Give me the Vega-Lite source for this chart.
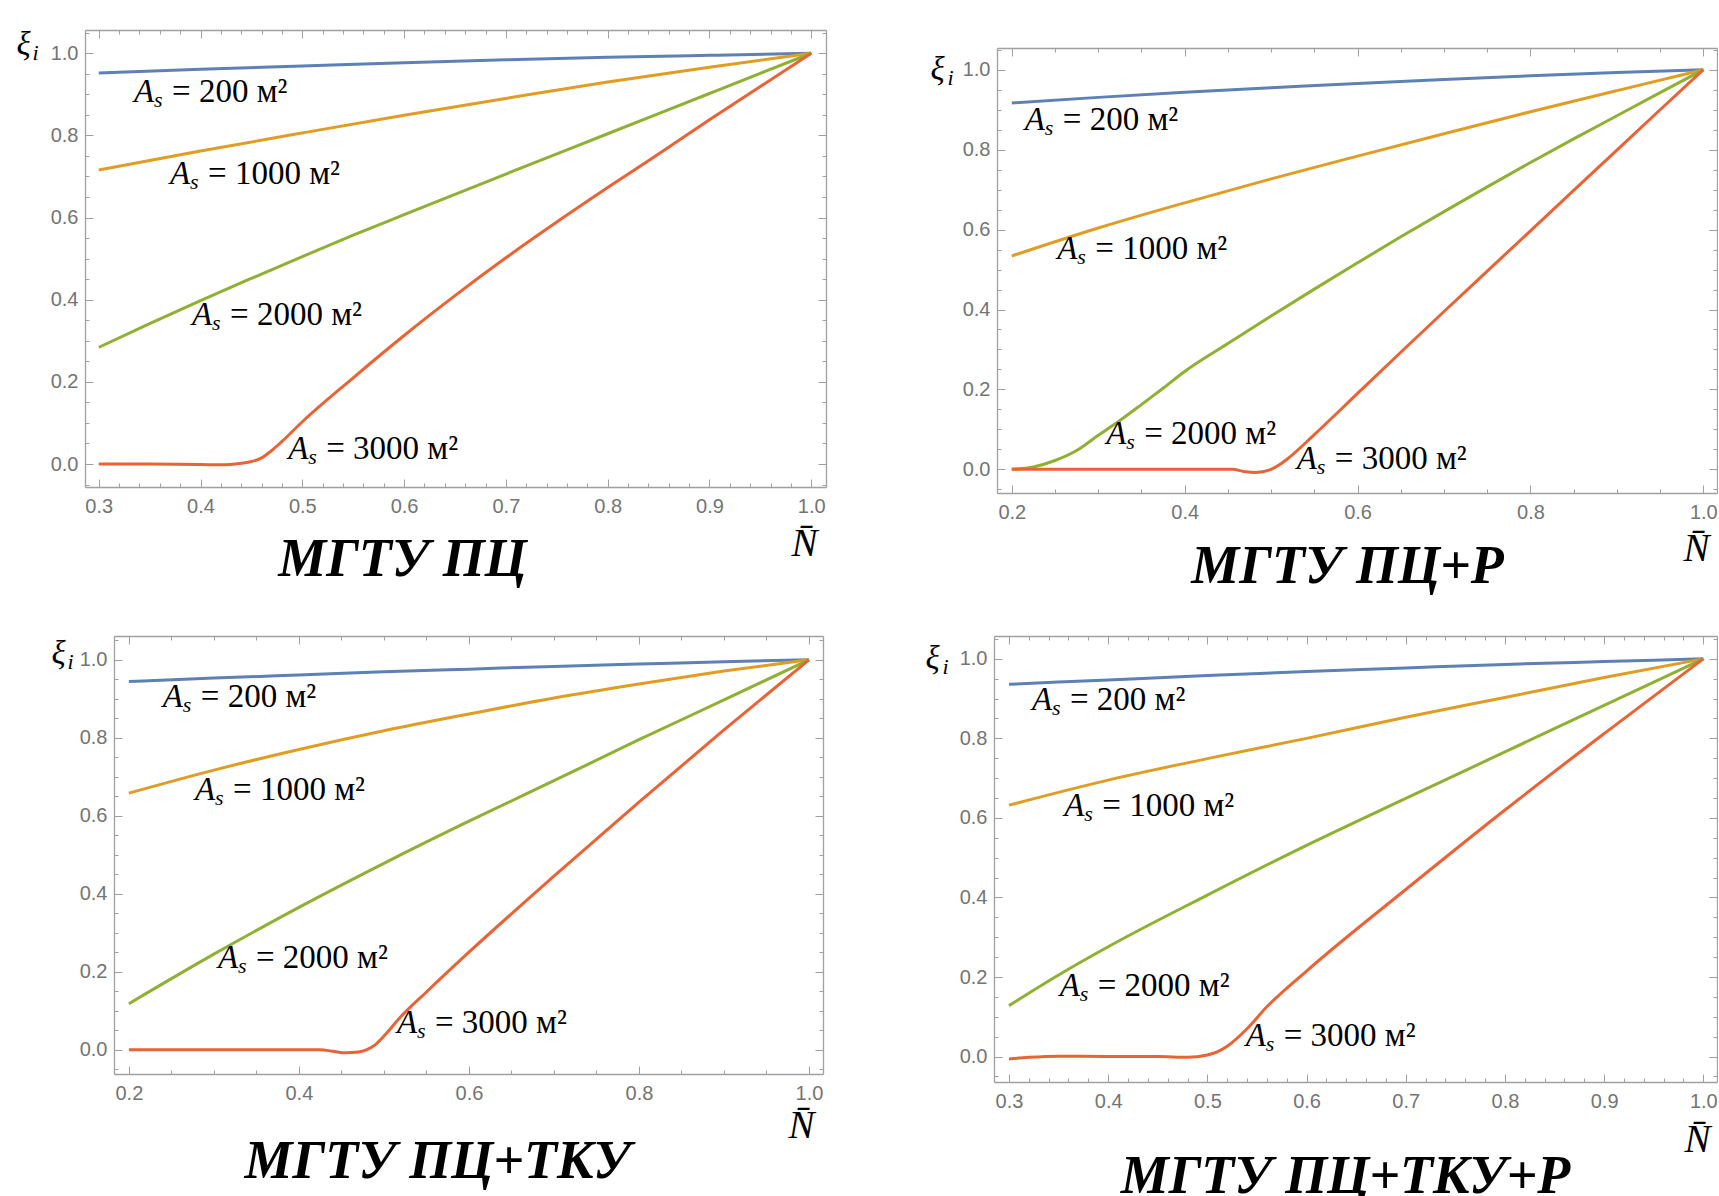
{
  "$schema": "https://vega.github.io/schema/vega-lite/v6.json",
  "background": "white",
  "padding": {"left": 16, "top": 28, "right": 0, "bottom": 0},
  "config": {
    "view": {"stroke": null},
    "axis": {
      "grid": false, "domainColor": "#a0a0a0", "domainWidth": 1.3, "tickColor": "#a0a0a0", "tickWidth": 1,
      "labelFont": "Liberation Sans", "labelFontSize": 20, "labelColor": "#747474", "labelFlush": false, "labelOverlap": false,
      "titleColor": "#000000", "titleFont": "Liberation Serif", "titleFontWeight": "normal", "titleFontStyle": "italic",
      "titleAngle": 0, "titleAlign": "left", "titleBaseline": "alphabetic", "format": ".1f"
    }
  },
  "datasets": {
    "p1": [
      {"series":"200","N":0.3,"xi":0.952},{"series":"200","N":0.4,"xi":0.961},{"series":"200","N":0.5,"xi":0.969},{"series":"200","N":0.6,"xi":0.977},{"series":"200","N":0.7,"xi":0.984},{"series":"200","N":0.8,"xi":0.99},{"series":"200","N":0.9,"xi":0.995},{"series":"200","N":1.0,"xi":1.0},
      {"series":"1000","N":0.3,"xi":0.716},{"series":"1000","N":0.4,"xi":0.762},{"series":"1000","N":0.5,"xi":0.806},{"series":"1000","N":0.6,"xi":0.849},{"series":"1000","N":0.7,"xi":0.89},{"series":"1000","N":0.8,"xi":0.93},{"series":"1000","N":0.9,"xi":0.966},{"series":"1000","N":1.0,"xi":1.0},
      {"series":"2000","N":0.3,"xi":0.284},{"series":"2000","N":0.35,"xi":0.342},{"series":"2000","N":0.4,"xi":0.398},{"series":"2000","N":0.45,"xi":0.452},{"series":"2000","N":0.5,"xi":0.505},{"series":"2000","N":0.55,"xi":0.557},{"series":"2000","N":0.6,"xi":0.607},{"series":"2000","N":0.7,"xi":0.706},{"series":"2000","N":0.8,"xi":0.804},{"series":"2000","N":0.9,"xi":0.902},{"series":"2000","N":1.0,"xi":1.0},
      {"series":"3000","N":0.3,"xi":0.0},{"series":"3000","N":0.35,"xi":0.0},{"series":"3000","N":0.4,"xi":-0.001},{"series":"3000","N":0.42,"xi":-0.002},{"series":"3000","N":0.44,"xi":0.002},{"series":"3000","N":0.45,"xi":0.006},{"series":"3000","N":0.46,"xi":0.015},{"series":"3000","N":0.47,"xi":0.033},{"series":"3000","N":0.48,"xi":0.055},{"series":"3000","N":0.5,"xi":0.103},{"series":"3000","N":0.55,"xi":0.21},{"series":"3000","N":0.6,"xi":0.313},{"series":"3000","N":0.65,"xi":0.41},{"series":"3000","N":0.7,"xi":0.502},{"series":"3000","N":0.75,"xi":0.589},{"series":"3000","N":0.8,"xi":0.673},{"series":"3000","N":0.85,"xi":0.755},{"series":"3000","N":0.9,"xi":0.838},{"series":"3000","N":0.95,"xi":0.919},{"series":"3000","N":1.0,"xi":1.0}
    ],
    "p2": [
      {"series":"200","N":0.2,"xi":0.917},{"series":"200","N":0.3,"xi":0.931},{"series":"200","N":0.4,"xi":0.944},{"series":"200","N":0.5,"xi":0.955},{"series":"200","N":0.6,"xi":0.966},{"series":"200","N":0.7,"xi":0.976},{"series":"200","N":0.8,"xi":0.985},{"series":"200","N":0.9,"xi":0.993},{"series":"200","N":1.0,"xi":1.0},
      {"series":"1000","N":0.2,"xi":0.534},{"series":"1000","N":0.3,"xi":0.604},{"series":"1000","N":0.4,"xi":0.667},{"series":"1000","N":0.5,"xi":0.727},{"series":"1000","N":0.6,"xi":0.784},{"series":"1000","N":0.7,"xi":0.84},{"series":"1000","N":0.8,"xi":0.895},{"series":"1000","N":0.9,"xi":0.948},{"series":"1000","N":1.0,"xi":1.0},
      {"series":"2000","N":0.2,"xi":0.0},{"series":"2000","N":0.225,"xi":0.006},{"series":"2000","N":0.25,"xi":0.022},{"series":"2000","N":0.275,"xi":0.047},{"series":"2000","N":0.3,"xi":0.085},{"series":"2000","N":0.325,"xi":0.122},{"series":"2000","N":0.35,"xi":0.162},{"series":"2000","N":0.375,"xi":0.203},{"series":"2000","N":0.4,"xi":0.245},{"series":"2000","N":0.45,"xi":0.315},{"series":"2000","N":0.5,"xi":0.384},{"series":"2000","N":0.55,"xi":0.451},{"series":"2000","N":0.6,"xi":0.517},{"series":"2000","N":0.65,"xi":0.582},{"series":"2000","N":0.7,"xi":0.645},{"series":"2000","N":0.75,"xi":0.707},{"series":"2000","N":0.8,"xi":0.768},{"series":"2000","N":0.85,"xi":0.827},{"series":"2000","N":0.9,"xi":0.885},{"series":"2000","N":0.95,"xi":0.943},{"series":"2000","N":1.0,"xi":1.0},
      {"series":"3000","N":0.2,"xi":0.0},{"series":"3000","N":0.3,"xi":0.0},{"series":"3000","N":0.4,"xi":0.0},{"series":"3000","N":0.455,"xi":0.0},{"series":"3000","N":0.47,"xi":-0.006},{"series":"3000","N":0.48,"xi":-0.008},{"series":"3000","N":0.49,"xi":-0.006},{"series":"3000","N":0.5,"xi":0.0},{"series":"3000","N":0.51,"xi":0.012},{"series":"3000","N":0.52,"xi":0.028},{"series":"3000","N":0.55,"xi":0.087},{"series":"3000","N":0.6,"xi":0.19},{"series":"3000","N":0.65,"xi":0.293},{"series":"3000","N":0.7,"xi":0.395},{"series":"3000","N":0.75,"xi":0.496},{"series":"3000","N":0.8,"xi":0.597},{"series":"3000","N":0.85,"xi":0.698},{"series":"3000","N":0.9,"xi":0.799},{"series":"3000","N":0.95,"xi":0.9},{"series":"3000","N":1.0,"xi":1.0}
    ],
    "p3": [
      {"series":"200","N":0.2,"xi":0.944},{"series":"200","N":0.3,"xi":0.953},{"series":"200","N":0.4,"xi":0.961},{"series":"200","N":0.5,"xi":0.969},{"series":"200","N":0.6,"xi":0.976},{"series":"200","N":0.7,"xi":0.983},{"series":"200","N":0.8,"xi":0.989},{"series":"200","N":0.9,"xi":0.995},{"series":"200","N":1.0,"xi":1.0},
      {"series":"1000","N":0.2,"xi":0.658},{"series":"1000","N":0.3,"xi":0.717},{"series":"1000","N":0.4,"xi":0.77},{"series":"1000","N":0.5,"xi":0.818},{"series":"1000","N":0.6,"xi":0.861},{"series":"1000","N":0.7,"xi":0.902},{"series":"1000","N":0.8,"xi":0.938},{"series":"1000","N":0.9,"xi":0.971},{"series":"1000","N":1.0,"xi":1.0},
      {"series":"2000","N":0.2,"xi":0.118},{"series":"2000","N":0.3,"xi":0.245},{"series":"2000","N":0.4,"xi":0.365},{"series":"2000","N":0.5,"xi":0.478},{"series":"2000","N":0.6,"xi":0.586},{"series":"2000","N":0.7,"xi":0.69},{"series":"2000","N":0.8,"xi":0.795},{"series":"2000","N":0.9,"xi":0.897},{"series":"2000","N":1.0,"xi":1.0},
      {"series":"3000","N":0.2,"xi":0.0},{"series":"3000","N":0.3,"xi":0.0},{"series":"3000","N":0.4,"xi":0.0},{"series":"3000","N":0.425,"xi":0.0},{"series":"3000","N":0.44,"xi":-0.004},{"series":"3000","N":0.455,"xi":-0.008},{"series":"3000","N":0.47,"xi":-0.006},{"series":"3000","N":0.48,"xi":0.0},{"series":"3000","N":0.49,"xi":0.013},{"series":"3000","N":0.5,"xi":0.035},{"series":"3000","N":0.52,"xi":0.085},{"series":"3000","N":0.55,"xi":0.148},{"series":"3000","N":0.6,"xi":0.25},{"series":"3000","N":0.7,"xi":0.445},{"series":"3000","N":0.8,"xi":0.635},{"series":"3000","N":0.9,"xi":0.82},{"series":"3000","N":1.0,"xi":1.0}
    ],
    "p4": [
      {"series":"200","N":0.3,"xi":0.936},{"series":"200","N":0.4,"xi":0.947},{"series":"200","N":0.5,"xi":0.958},{"series":"200","N":0.6,"xi":0.968},{"series":"200","N":0.7,"xi":0.977},{"series":"200","N":0.8,"xi":0.986},{"series":"200","N":0.9,"xi":0.993},{"series":"200","N":1.0,"xi":1.0},
      {"series":"1000","N":0.3,"xi":0.632},{"series":"1000","N":0.4,"xi":0.695},{"series":"1000","N":0.5,"xi":0.749},{"series":"1000","N":0.6,"xi":0.8},{"series":"1000","N":0.7,"xi":0.853},{"series":"1000","N":0.8,"xi":0.903},{"series":"1000","N":0.9,"xi":0.953},{"series":"1000","N":1.0,"xi":1.0},
      {"series":"2000","N":0.3,"xi":0.128},{"series":"2000","N":0.35,"xi":0.205},{"series":"2000","N":0.4,"xi":0.276},{"series":"2000","N":0.5,"xi":0.406},{"series":"2000","N":0.6,"xi":0.531},{"series":"2000","N":0.7,"xi":0.649},{"series":"2000","N":0.8,"xi":0.766},{"series":"2000","N":0.9,"xi":0.883},{"series":"2000","N":1.0,"xi":1.0},
      {"series":"3000","N":0.3,"xi":-0.006},{"series":"3000","N":0.32,"xi":-0.002},{"series":"3000","N":0.35,"xi":0.001},{"series":"3000","N":0.4,"xi":0.0},{"series":"3000","N":0.45,"xi":0.0},{"series":"3000","N":0.48,"xi":-0.002},{"series":"3000","N":0.5,"xi":0.004},{"series":"3000","N":0.51,"xi":0.012},{"series":"3000","N":0.52,"xi":0.026},{"series":"3000","N":0.54,"xi":0.07},{"series":"3000","N":0.56,"xi":0.125},{"series":"3000","N":0.6,"xi":0.215},{"series":"3000","N":0.7,"xi":0.42},{"series":"3000","N":0.8,"xi":0.62},{"series":"3000","N":0.9,"xi":0.812},{"series":"3000","N":1.0,"xi":1.0}
    ],
    "p1lab": [
      {"series":"200","N":0.3347,"xi":0.8807,"sym":"A","sub":"s","eq":"= 200 м²"},
      {"series":"1000","N":0.3701,"xi":0.6813,"sym":"A","sub":"s","eq":"= 1000 м²"},
      {"series":"2000","N":0.3917,"xi":0.3386,"sym":"A","sub":"s","eq":"= 2000 м²"},
      {"series":"3000","N":0.4861,"xi":0.0129,"sym":"A","sub":"s","eq":"= 3000 м²"}
    ],
    "p2lab": [
      {"series":"200","N":0.2151,"xi":0.849,"sym":"A","sub":"s","eq":"= 200 м²"},
      {"series":"1000","N":0.2527,"xi":0.5263,"sym":"A","sub":"s","eq":"= 1000 м²"},
      {"series":"2000","N":0.3092,"xi":0.0633,"sym":"A","sub":"s","eq":"= 2000 м²"},
      {"series":"3000","N":0.5297,"xi":0.0008,"sym":"A","sub":"s","eq":"= 3000 м²"}
    ],
    "p3lab": [
      {"series":"200","N":0.2399,"xi":0.88,"sym":"A","sub":"s","eq":"= 200 м²"},
      {"series":"1000","N":0.2778,"xi":0.6404,"sym":"A","sub":"s","eq":"= 1000 м²"},
      {"series":"2000","N":0.3047,"xi":0.2095,"sym":"A","sub":"s","eq":"= 2000 м²"},
      {"series":"3000","N":0.5154,"xi":0.0428,"sym":"A","sub":"s","eq":"= 3000 м²"}
    ],
    "p4lab": [
      {"series":"200","N":0.3231,"xi":0.8716,"sym":"A","sub":"s","eq":"= 200 м²"},
      {"series":"1000","N":0.3558,"xi":0.6047,"sym":"A","sub":"s","eq":"= 1000 м²"},
      {"series":"2000","N":0.3512,"xi":0.1516,"sym":"A","sub":"s","eq":"= 2000 м²"},
      {"series":"3000","N":0.5386,"xi":0.0257,"sym":"A","sub":"s","eq":"= 3000 м²"}
    ]
  },
  "columns": 2,
  "spacing": {"row": 143, "column": 168},
  "bounds": "flush",
  "concat": [
    {
      "width": 741, "height": 457,
      "resolve": {"axis": {"x": "independent", "y": "independent"}},
      "layer": [
        {"data": {"name": "p1"}, "mark": {"type": "line", "strokeWidth": 3, "interpolate": "monotone"},
         "encoding": {
           "x": {"field": "N", "type": "quantitative", "scale": {"domain": [0.2865, 1.0145], "nice": false, "zero": false},
                 "axis": {"orient": "bottom", "values": [0.3,0.4,0.5,0.6,0.7,0.8,0.9,1.0], "tickSize": -8, "labelPadding": 17, "title": "N\u0304", "titleFontSize": 39, "titleX": 706, "titleY": 68}},
           "y": {"field": "xi", "type": "quantitative", "scale": {"domain": [-0.0559, 1.0566], "nice": false, "zero": false},
                 "axis": {"orient": "left", "values": [0,0.2,0.4,0.6,0.8,1.0], "tickSize": -8, "labelPadding": 15, "title": "ξ", "titleFontSize": 33, "titleX": -69, "titleY": 24}},
           "color": {"field": "series", "type": "nominal", "legend": null, "scale": {"domain": ["200","1000","2000","3000"], "range": ["#5E81B5","#E19C24","#8FB032","#EB6235"]}}
         }},
        {"data": {"name": "p1"}, "mark": {"type": "point", "opacity": 0},
         "encoding": {
           "x": {"field": "N", "type": "quantitative", "axis": {"orient": "bottom", "values": [0.32,0.34,0.36,0.38,0.42,0.44,0.46,0.48,0.52,0.54,0.56,0.58,0.62,0.64,0.66,0.68,0.72,0.74,0.76,0.78,0.82,0.84,0.86,0.88,0.92,0.94,0.96,0.98], "labels": false, "domain": false, "tickSize": -4, "title": "МГТУ ПЦ", "titleFontSize": 54, "titleFontWeight": "bold", "titleAlign": "center", "titleX": 317, "titleY": 88}},
           "y": {"field": "xi", "type": "quantitative", "axis": {"orient": "left", "values": [-0.05,0.05,0.1,0.15,0.25,0.3,0.35,0.45,0.5,0.55,0.65,0.7,0.75,0.85,0.9,0.95,1.05], "labels": false, "domain": false, "tickSize": -4, "title": "i", "titleFontSize": 22, "titleX": -53, "titleY": 29}}
         }},
        {"data": {"name": "p1"}, "mark": {"type": "point", "opacity": 0},
         "encoding": {
           "x": {"field": "N", "type": "quantitative", "axis": {"orient": "top", "values": [0.3,0.4,0.5,0.6,0.7,0.8,0.9,1.0], "labels": false, "tickSize": -8, "title": null}},
           "y": {"field": "xi", "type": "quantitative", "axis": {"orient": "right", "values": [0,0.2,0.4,0.6,0.8,1.0], "labels": false, "tickSize": -8, "title": null}}
         }},
        {"data": {"name": "p1"}, "mark": {"type": "point", "opacity": 0},
         "encoding": {
           "x": {"field": "N", "type": "quantitative", "axis": {"orient": "top", "values": [0.32,0.34,0.36,0.38,0.42,0.44,0.46,0.48,0.52,0.54,0.56,0.58,0.62,0.64,0.66,0.68,0.72,0.74,0.76,0.78,0.82,0.84,0.86,0.88,0.92,0.94,0.96,0.98], "labels": false, "domain": false, "tickSize": -4, "title": null}},
           "y": {"field": "xi", "type": "quantitative", "axis": {"orient": "right", "values": [-0.05,0.05,0.1,0.15,0.25,0.3,0.35,0.45,0.5,0.55,0.65,0.7,0.75,0.85,0.9,0.95,1.05], "labels": false, "domain": false, "tickSize": -4, "title": null}}
         }},
        {"data": {"name": "p1lab"}, "mark": {"type": "text", "align": "left", "baseline": "alphabetic", "font": "Liberation Serif", "fontSize": 33, "fontStyle": "italic", "color": "#000000"},
         "encoding": {"x": {"field": "N", "type": "quantitative", "axis": null}, "y": {"field": "xi", "type": "quantitative", "axis": null}, "text": {"field": "sym"}}},
        {"data": {"name": "p1lab"}, "mark": {"type": "text", "align": "left", "baseline": "alphabetic", "font": "Liberation Serif", "fontSize": 22, "fontStyle": "italic", "dx": 20, "dy": 5, "color": "#000000"},
         "encoding": {"x": {"field": "N", "type": "quantitative", "axis": null}, "y": {"field": "xi", "type": "quantitative", "axis": null}, "text": {"field": "sub"}}},
        {"data": {"name": "p1lab"}, "mark": {"type": "text", "align": "left", "baseline": "alphabetic", "font": "Liberation Serif", "fontSize": 33, "dx": 38, "color": "#000000"},
         "encoding": {"x": {"field": "N", "type": "quantitative", "axis": null}, "y": {"field": "xi", "type": "quantitative", "axis": null}, "text": {"field": "eq"}}}
      ]
    },
    {
      "width": 723, "height": 463,
      "resolve": {"axis": {"x": "independent", "y": "independent"}},
      "layer": [
        {"data": {"name": "p2"}, "mark": {"type": "line", "strokeWidth": 3, "interpolate": "monotone"},
         "encoding": {
           "x": {"field": "N", "type": "quantitative", "scale": {"domain": [0.1829, 1.0158], "range": [3, 723], "nice": false, "zero": false},
                 "axis": {"orient": "bottom", "values": [0.2,0.4,0.6,0.8,1.0], "tickSize": -8, "labelPadding": 17, "title": "N\u0304", "titleFontSize": 39, "titleX": 689, "titleY": 67}},
           "y": {"field": "xi", "type": "quantitative", "scale": {"domain": [-0.0593, 1.0546], "range": [463, 18], "nice": false, "zero": false},
                 "axis": {"orient": "left", "offset": -3, "values": [0,0.2,0.4,0.6,0.8,1.0], "tickSize": -8, "labelPadding": 15, "title": "ξ", "titleFontSize": 33, "titleX": -67, "titleY": 49}},
           "color": {"field": "series", "type": "nominal", "legend": null, "scale": {"domain": ["200","1000","2000","3000"], "range": ["#5E81B5","#E19C24","#8FB032","#EB6235"]}}
         }},
        {"data": {"name": "p2"}, "mark": {"type": "point", "opacity": 0},
         "encoding": {
           "x": {"field": "N", "type": "quantitative", "axis": {"orient": "bottom", "values": [0.25,0.3,0.35,0.45,0.5,0.55,0.65,0.7,0.75,0.85,0.9,0.95], "labels": false, "domain": false, "tickSize": -4, "title": "МГТУ ПЦ+Р", "titleFontSize": 54, "titleFontWeight": "bold", "titleAlign": "center", "titleX": 353, "titleY": 89}},
           "y": {"field": "xi", "type": "quantitative", "axis": {"orient": "left", "offset": -3, "values": [-0.05,0.05,0.1,0.15,0.25,0.3,0.35,0.45,0.5,0.55,0.65,0.7,0.75,0.85,0.9,0.95,1.05], "labels": false, "domain": false, "tickSize": -4, "title": "i", "titleFontSize": 22, "titleX": -50, "titleY": 54}}
         }},
        {"data": {"name": "p2"}, "mark": {"type": "point", "opacity": 0},
         "encoding": {
           "x": {"field": "N", "type": "quantitative", "axis": {"orient": "top", "offset": -18, "values": [0.2,0.4,0.6,0.8,1.0], "labels": false, "tickSize": -8, "title": null}},
           "y": {"field": "xi", "type": "quantitative", "axis": {"orient": "right", "values": [0,0.2,0.4,0.6,0.8,1.0], "labels": false, "tickSize": -8, "title": null}}
         }},
        {"data": {"name": "p2"}, "mark": {"type": "point", "opacity": 0},
         "encoding": {
           "x": {"field": "N", "type": "quantitative", "axis": {"orient": "top", "offset": -18, "values": [0.25,0.3,0.35,0.45,0.5,0.55,0.65,0.7,0.75,0.85,0.9,0.95], "labels": false, "domain": false, "tickSize": -4, "title": null}},
           "y": {"field": "xi", "type": "quantitative", "axis": {"orient": "right", "values": [-0.05,0.05,0.1,0.15,0.25,0.3,0.35,0.45,0.5,0.55,0.65,0.7,0.75,0.85,0.9,0.95,1.05], "labels": false, "domain": false, "tickSize": -4, "title": null}}
         }},
        {"data": {"name": "p2lab"}, "mark": {"type": "text", "align": "left", "baseline": "alphabetic", "font": "Liberation Serif", "fontSize": 33, "fontStyle": "italic", "color": "#000000"},
         "encoding": {"x": {"field": "N", "type": "quantitative", "axis": null}, "y": {"field": "xi", "type": "quantitative", "axis": null}, "text": {"field": "sym"}}},
        {"data": {"name": "p2lab"}, "mark": {"type": "text", "align": "left", "baseline": "alphabetic", "font": "Liberation Serif", "fontSize": 22, "fontStyle": "italic", "dx": 20, "dy": 5, "color": "#000000"},
         "encoding": {"x": {"field": "N", "type": "quantitative", "axis": null}, "y": {"field": "xi", "type": "quantitative", "axis": null}, "text": {"field": "sub"}}},
        {"data": {"name": "p2lab"}, "mark": {"type": "text", "align": "left", "baseline": "alphabetic", "font": "Liberation Serif", "fontSize": 33, "dx": 38, "color": "#000000"},
         "encoding": {"x": {"field": "N", "type": "quantitative", "axis": null}, "y": {"field": "xi", "type": "quantitative", "axis": null}, "text": {"field": "eq"}}}
      ]
    },
    {
      "width": 738, "height": 438,
      "resolve": {"axis": {"x": "independent", "y": "independent"}},
      "layer": [
        {"data": {"name": "p3"}, "mark": {"type": "line", "strokeWidth": 3, "interpolate": "monotone"},
         "encoding": {
           "x": {"field": "N", "type": "quantitative", "scale": {"domain": [0.1825, 1.0165], "range": [29, 738], "nice": false, "zero": false},
                 "axis": {"orient": "bottom", "values": [0.2,0.4,0.6,0.8,1.0], "tickSize": -8, "labelPadding": 17, "title": "N\u0304", "titleFontSize": 39, "titleX": 703, "titleY": 63}},
           "y": {"field": "xi", "type": "quantitative", "scale": {"domain": [-0.0623, 1.061], "nice": false, "zero": false},
                 "axis": {"orient": "left", "offset": -29, "values": [0,0.2,0.4,0.6,0.8,1.0], "tickSize": -8, "labelPadding": 15, "title": "ξ", "titleFontSize": 33, "titleX": -63, "titleY": 27}},
           "color": {"field": "series", "type": "nominal", "legend": null, "scale": {"domain": ["200","1000","2000","3000"], "range": ["#5E81B5","#E19C24","#8FB032","#EB6235"]}}
         }},
        {"data": {"name": "p3"}, "mark": {"type": "point", "opacity": 0},
         "encoding": {
           "x": {"field": "N", "type": "quantitative", "axis": {"orient": "bottom", "values": [0.25,0.3,0.35,0.45,0.5,0.55,0.65,0.7,0.75,0.85,0.9,0.95], "labels": false, "domain": false, "tickSize": -4, "title": "МГТУ ПЦ+ТКУ", "titleFontSize": 54, "titleFontWeight": "bold", "titleAlign": "center", "titleX": 352, "titleY": 103}},
           "y": {"field": "xi", "type": "quantitative", "axis": {"orient": "left", "offset": -29, "values": [-0.05,0.05,0.1,0.15,0.25,0.3,0.35,0.45,0.5,0.55,0.65,0.7,0.75,0.85,0.9,0.95,1.05], "labels": false, "domain": false, "tickSize": -4, "title": "i", "titleFontSize": 22, "titleX": -47, "titleY": 32}}
         }},
        {"data": {"name": "p3"}, "mark": {"type": "point", "opacity": 0},
         "encoding": {
           "x": {"field": "N", "type": "quantitative", "axis": {"orient": "top", "values": [0.2,0.4,0.6,0.8,1.0], "labels": false, "tickSize": -8, "title": null}},
           "y": {"field": "xi", "type": "quantitative", "axis": {"orient": "right", "values": [0,0.2,0.4,0.6,0.8,1.0], "labels": false, "tickSize": -8, "title": null}}
         }},
        {"data": {"name": "p3"}, "mark": {"type": "point", "opacity": 0},
         "encoding": {
           "x": {"field": "N", "type": "quantitative", "axis": {"orient": "top", "values": [0.25,0.3,0.35,0.45,0.5,0.55,0.65,0.7,0.75,0.85,0.9,0.95], "labels": false, "domain": false, "tickSize": -4, "title": null}},
           "y": {"field": "xi", "type": "quantitative", "axis": {"orient": "right", "values": [-0.05,0.05,0.1,0.15,0.25,0.3,0.35,0.45,0.5,0.55,0.65,0.7,0.75,0.85,0.9,0.95,1.05], "labels": false, "domain": false, "tickSize": -4, "title": null}}
         }},
        {"data": {"name": "p3lab"}, "mark": {"type": "text", "align": "left", "baseline": "alphabetic", "font": "Liberation Serif", "fontSize": 33, "fontStyle": "italic", "color": "#000000"},
         "encoding": {"x": {"field": "N", "type": "quantitative", "axis": null}, "y": {"field": "xi", "type": "quantitative", "axis": null}, "text": {"field": "sym"}}},
        {"data": {"name": "p3lab"}, "mark": {"type": "text", "align": "left", "baseline": "alphabetic", "font": "Liberation Serif", "fontSize": 22, "fontStyle": "italic", "dx": 20, "dy": 5, "color": "#000000"},
         "encoding": {"x": {"field": "N", "type": "quantitative", "axis": null}, "y": {"field": "xi", "type": "quantitative", "axis": null}, "text": {"field": "sub"}}},
        {"data": {"name": "p3lab"}, "mark": {"type": "text", "align": "left", "baseline": "alphabetic", "font": "Liberation Serif", "fontSize": 33, "dx": 38, "color": "#000000"},
         "encoding": {"x": {"field": "N", "type": "quantitative", "axis": null}, "y": {"field": "xi", "type": "quantitative", "axis": null}, "text": {"field": "eq"}}}
      ]
    },
    {
      "width": 723, "height": 446,
      "resolve": {"axis": {"x": "independent", "y": "independent"}},
      "layer": [
        {"data": {"name": "p4"}, "mark": {"type": "line", "strokeWidth": 3, "interpolate": "monotone"},
         "encoding": {
           "x": {"field": "N", "type": "quantitative", "scale": {"domain": [0.2849, 1.0138], "nice": false, "zero": false},
                 "axis": {"orient": "bottom", "values": [0.3,0.4,0.5,0.6,0.7,0.8,0.9,1.0], "tickSize": -8, "labelPadding": 17, "title": "N\u0304", "titleFontSize": 39, "titleX": 690, "titleY": 69}},
           "y": {"field": "xi", "type": "quantitative", "scale": {"domain": [-0.064, 1.0574], "nice": false, "zero": false},
                 "axis": {"orient": "left", "values": [0,0.2,0.4,0.6,0.8,1.0], "tickSize": -8, "labelPadding": 15, "title": "ξ", "titleFontSize": 33, "titleX": -69, "titleY": 32}},
           "color": {"field": "series", "type": "nominal", "legend": null, "scale": {"domain": ["200","1000","2000","3000"], "range": ["#5E81B5","#E19C24","#8FB032","#EB6235"]}}
         }},
        {"data": {"name": "p4"}, "mark": {"type": "point", "opacity": 0},
         "encoding": {
           "x": {"field": "N", "type": "quantitative", "axis": {"orient": "bottom", "values": [0.32,0.34,0.36,0.38,0.42,0.44,0.46,0.48,0.52,0.54,0.56,0.58,0.62,0.64,0.66,0.68,0.72,0.74,0.76,0.78,0.82,0.84,0.86,0.88,0.92,0.94,0.96,0.98], "labels": false, "domain": false, "tickSize": -4, "title": "МГТУ ПЦ+ТКУ+Р", "titleFontSize": 54, "titleFontWeight": "bold", "titleAlign": "center", "titleX": 351, "titleY": 110}},
           "y": {"field": "xi", "type": "quantitative", "axis": {"orient": "left", "values": [-0.05,0.05,0.1,0.15,0.25,0.3,0.35,0.45,0.5,0.55,0.65,0.7,0.75,0.85,0.9,0.95,1.05], "labels": false, "domain": false, "tickSize": -4, "title": "i", "titleFontSize": 22, "titleX": -52, "titleY": 37}}
         }},
        {"data": {"name": "p4"}, "mark": {"type": "point", "opacity": 0},
         "encoding": {
           "x": {"field": "N", "type": "quantitative", "axis": {"orient": "top", "values": [0.3,0.4,0.5,0.6,0.7,0.8,0.9,1.0], "labels": false, "tickSize": -8, "title": null}},
           "y": {"field": "xi", "type": "quantitative", "axis": {"orient": "right", "values": [0,0.2,0.4,0.6,0.8,1.0], "labels": false, "tickSize": -8, "title": null}}
         }},
        {"data": {"name": "p4"}, "mark": {"type": "point", "opacity": 0},
         "encoding": {
           "x": {"field": "N", "type": "quantitative", "axis": {"orient": "top", "values": [0.32,0.34,0.36,0.38,0.42,0.44,0.46,0.48,0.52,0.54,0.56,0.58,0.62,0.64,0.66,0.68,0.72,0.74,0.76,0.78,0.82,0.84,0.86,0.88,0.92,0.94,0.96,0.98], "labels": false, "domain": false, "tickSize": -4, "title": null}},
           "y": {"field": "xi", "type": "quantitative", "axis": {"orient": "right", "values": [-0.05,0.05,0.1,0.15,0.25,0.3,0.35,0.45,0.5,0.55,0.65,0.7,0.75,0.85,0.9,0.95,1.05], "labels": false, "domain": false, "tickSize": -4, "title": null}}
         }},
        {"data": {"name": "p4lab"}, "mark": {"type": "text", "align": "left", "baseline": "alphabetic", "font": "Liberation Serif", "fontSize": 33, "fontStyle": "italic", "color": "#000000"},
         "encoding": {"x": {"field": "N", "type": "quantitative", "axis": null}, "y": {"field": "xi", "type": "quantitative", "axis": null}, "text": {"field": "sym"}}},
        {"data": {"name": "p4lab"}, "mark": {"type": "text", "align": "left", "baseline": "alphabetic", "font": "Liberation Serif", "fontSize": 22, "fontStyle": "italic", "dx": 20, "dy": 5, "color": "#000000"},
         "encoding": {"x": {"field": "N", "type": "quantitative", "axis": null}, "y": {"field": "xi", "type": "quantitative", "axis": null}, "text": {"field": "sub"}}},
        {"data": {"name": "p4lab"}, "mark": {"type": "text", "align": "left", "baseline": "alphabetic", "font": "Liberation Serif", "fontSize": 33, "dx": 38, "color": "#000000"},
         "encoding": {"x": {"field": "N", "type": "quantitative", "axis": null}, "y": {"field": "xi", "type": "quantitative", "axis": null}, "text": {"field": "eq"}}}
      ]
    }
  ]
}
